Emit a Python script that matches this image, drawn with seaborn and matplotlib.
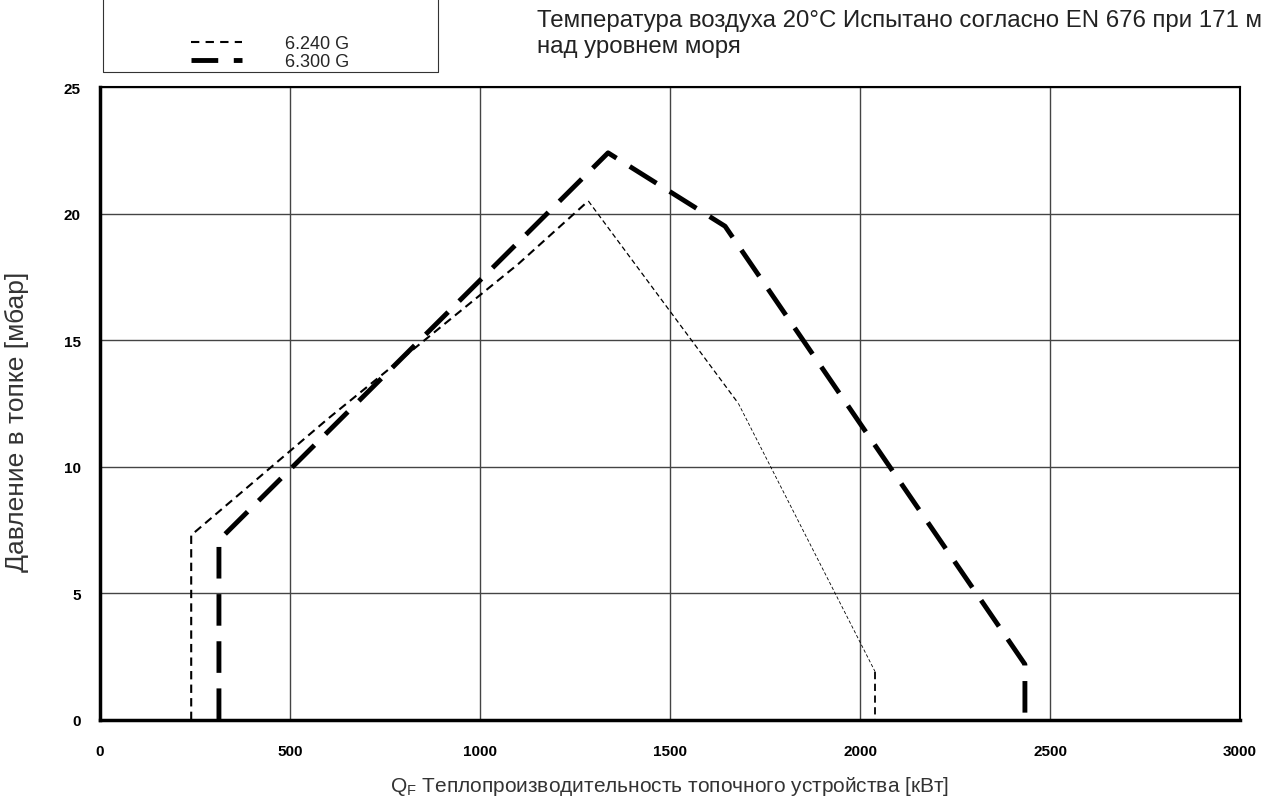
import matplotlib
matplotlib.use('Agg')
import matplotlib.pyplot as plt
from matplotlib.lines import Line2D
import seaborn as sns
import pandas as pd

# данные
q_240 = [240, 240, 600, 1100, 1285, 1680, 2040, 2040]
p_240 = [0.0, 7.3, 11.9, 18.0, 20.5, 12.5, 1.9, 0.0]

q_300 = [313, 313, 1337, 1645, 2434, 2434]
p_300 = [0.0, 7.1, 22.4, 19.5, 2.2, 0.0]

labels = ['6.240 G', '6.300 G']
x_ticks = [0, 500, 1000, 1500, 2000, 2500, 3000]
y_ticks = [0, 5, 10, 15, 20, 25]

sns.set_theme(style='white')
plt.rcParams['font.family'] = ['Liberation Sans', 'DejaVu Sans']

df_240 = pd.DataFrame({'q': q_240, 'p': p_240})
df_300 = pd.DataFrame({'q': q_300, 'p': p_300})

fig = plt.figure(figsize=(12.73, 8.03), dpi=100)
ax = fig.add_axes([100 / 1273, 82 / 803, 1140 / 1273, 633 / 803])

ax.grid(True, color='#444444', linewidth=1.0)
ax.set_axisbelow(True)

thin = (0, (4, 2.5))
thick = (0, (6.5, 3.2))
# 6.240 G - тонкий пунктир, к концу становится тоньше
sns.lineplot(data=df_240.iloc[:5], x='q', y='p', ax=ax, sort=False, estimator=None,
             color='black', linewidth=1.5, linestyle=thin)
sns.lineplot(data=df_240.iloc[4:6], x='q', y='p', ax=ax, sort=False, estimator=None,
             color='black', linewidth=0.9, linestyle=thin)
sns.lineplot(data=df_240.iloc[5:7], x='q', y='p', ax=ax, sort=False, estimator=None,
             color='black', linewidth=0.6, linestyle=thin)
sns.lineplot(data=df_240.iloc[6:], x='q', y='p', ax=ax, sort=False, estimator=None,
             color='black', linewidth=1.3, linestyle=thin)
# 6.300 G - жирный штрих
sns.lineplot(data=df_300, x='q', y='p', ax=ax, sort=False, estimator=None,
             color='black', linewidth=3.5, linestyle=thick)

ax.set_xlim(0, 3000)
ax.set_ylim(0, 25)
ax.set_xticks(x_ticks)
ax.set_yticks(y_ticks)
ax.set_xticklabels([str(t) for t in x_ticks], fontweight='bold', fontsize=11)
ax.set_yticklabels([str(t) for t in y_ticks], fontweight='bold', fontsize=11)
ax.tick_params(axis='x', direction='out', length=6, width=1.5, pad=11, colors='black')
ax.tick_params(axis='y', length=0, pad=14, colors='black')

for side in ['left', 'bottom']:
    ax.spines[side].set_linewidth(2.5)
    ax.spines[side].set_color('black')
for side in ['top', 'right']:
    ax.spines[side].set_linewidth(1.5)
    ax.spines[side].set_color('black')

ax.set_xlabel(r'Q$_\mathregular{F}$ Теплопроизводительность топочного устройства [кВт]',
              fontsize=15, color='#333333', labelpad=12)
ax.set_ylabel('Давление в топке [мбар]', fontsize=19, color='#333333')
ax.yaxis.set_label_coords(-0.062, 0.472)

fig.text(537 / 1273, 1 - 10 / 803,
         'Температура воздуха 20°C Испытано согласно EN 676 при 171 м\nнад уровнем моря',
         fontsize=17.3, color='#222222', va='top', ha='left', linespacing=1.25)

# рамка легенды (верхний край срезан)
x0, x1, yb = 103 / 1273, 438 / 1273, 1 - 73 / 803
fig.add_artist(Line2D([x0, x0, x1, x1], [1.0, yb, yb, 1.0], color='#333333',
                      linewidth=0.8, transform=fig.transFigure))
handles = [Line2D([], [], color='black', linewidth=1.5, linestyle=(0, (4, 3))),
           Line2D([], [], color='black', linewidth=3.5, linestyle=(0, (5.5, 3.2)))]
fig.legend(handles, labels, loc='upper left', bbox_to_anchor=(191 / 1273, 1 - 36 / 803),
           frameon=False, fontsize=13, handlelength=2.8, handletextpad=2.4,
           labelspacing=0.08, borderpad=0, borderaxespad=0)

fig.savefig('out.png', dpi=100)
